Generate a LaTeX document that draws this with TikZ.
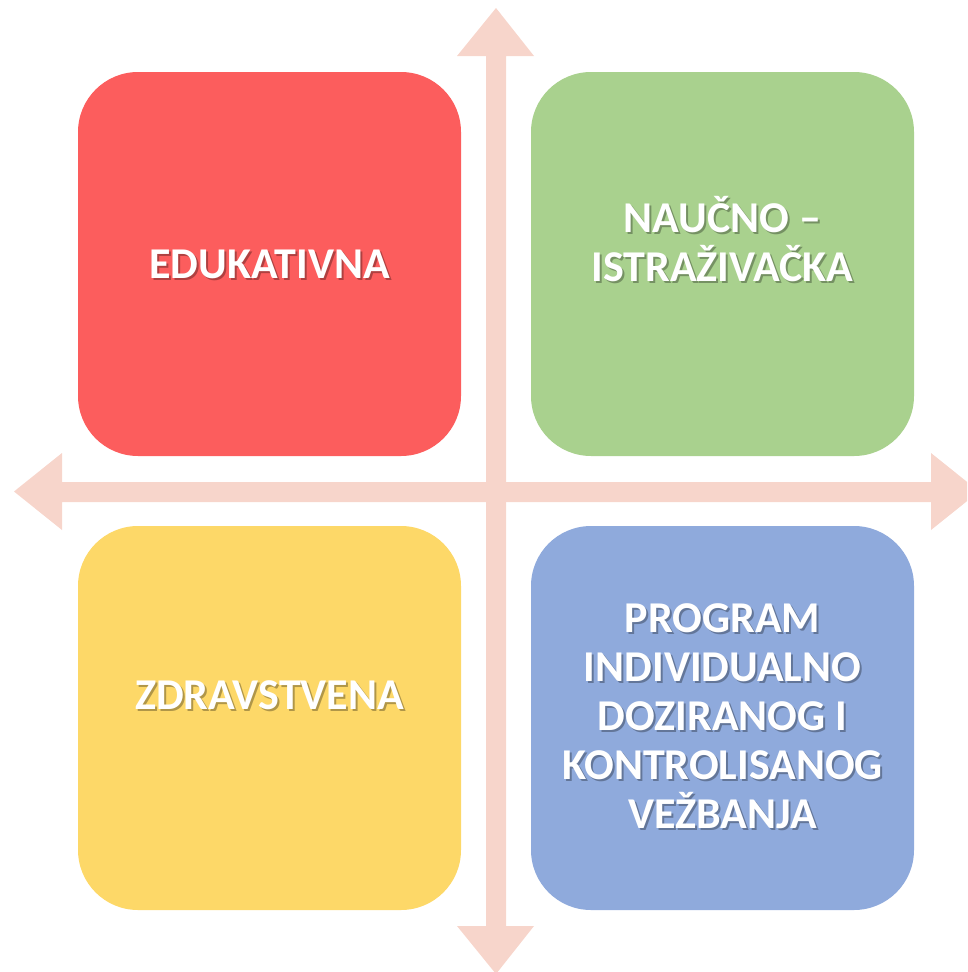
\documentclass[tikz,border=0pt]{standalone}
\usepackage{fontspec}
\setmainfont{Carlito}
\definecolor{arrowc}{HTML}{F7D5CB}
\definecolor{redc}{HTML}{FC5D5D}
\definecolor{greenc}{HTML}{A9D18E}
\definecolor{yellowc}{HTML}{FDD868}
\definecolor{bluec}{HTML}{8FAADC}
\tikzset{
  quad/.style={rounded corners=60pt, minimum width=383pt, minimum height=384pt, inner sep=0pt, draw=none},
  lbl/.style={text=white, font=\fontsize{44}{49}\selectfont\bfseries, align=center, inner sep=0pt},
  lblshadow/.style={text=black, opacity=0.3, font=\fontsize{44}{49}\selectfont\bfseries, align=center, inner sep=0pt},
}
\begin{document}
\begin{tikzpicture}[x=1pt,y=-1pt]
\useasboundingbox (0,0) rectangle (967,972);
\clip (0,0) rectangle (967,972);
% axes
\fill[arrowc] (486,56) -- (457,56) -- (496,8) -- (534,56) -- (506,56) -- (506,926) -- (534,926) -- (496,974) -- (457,926) -- (486,926) -- cycle;
\fill[arrowc] (62,482) -- (62,453) -- (14,491.5) -- (62,530) -- (62,502) -- (931,502) -- (931,530) -- (979,491.5) -- (931,453) -- (931,482) -- cycle;
% boxes
\node[quad, fill=redc] (red) at (269.5,264) {};
\node[quad, fill=greenc] (green) at (722.5,264) {};
\node[quad, fill=yellowc] (yellow) at (269.5,718) {};
\node[quad, fill=bluec] (blue) at (722.5,718) {};
% labels
\node[lblshadow] at (271.5,266) {EDUKATIVNA};
\node[lbl] (t1) at (269.5,264) {EDUKATIVNA};
\node[lblshadow] at (724.5,241) {NAUČNO –\\ISTRAŽIVAČKA};
\node[lbl] (t2) at (722.5,239) {NAUČNO –\\ISTRAŽIVAČKA};
\node[lblshadow] at (271.5,697) {ZDRAVSTVENA};
\node[lbl] (t3) at (269.5,695) {ZDRAVSTVENA};
\node[lblshadow] at (724.5,718) {PROGRAM\\INDIVIDUALNO\\DOZIRANOG I\\KONTROLISANOG\\VEŽBANJA};
\node[lbl] (t4) at (722.5,716) {PROGRAM\\INDIVIDUALNO\\DOZIRANOG I\\KONTROLISANOG\\VEŽBANJA};
\end{tikzpicture}
\end{document}
